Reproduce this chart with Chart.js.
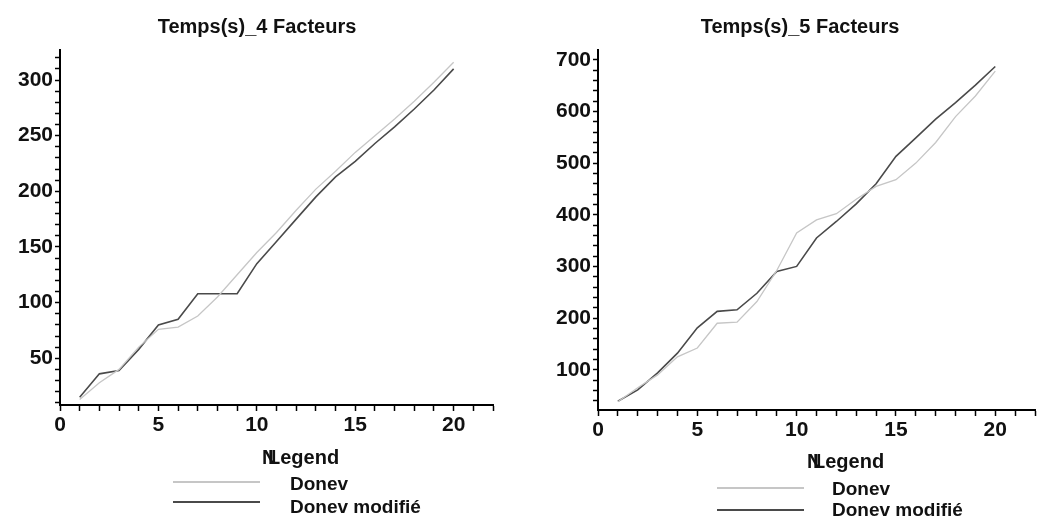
<!DOCTYPE html>
<html>
<head>
<meta charset="utf-8">
<script src="https://cdn.jsdelivr.net/npm/chart.js@4"></script>
<style>
  body { margin: 0; background: #fff; }
  .box { position: absolute; top: 0; width: 522px; height: 526px; }
</style>
</head>
<body>
<div class="box" style="left:0"><canvas id="c4" width="522" height="526"></canvas></div>
<div class="box" style="left:522px"><canvas id="c5" width="522" height="526"></canvas></div>
<script>
// ---- data ----
const nValues = [1, 2, 3, 4, 5, 6, 7, 8, 9, 10, 11, 12, 13, 14, 15, 16, 17, 18, 19, 20];

const donev4   = [13, 28, 40, 60, 76, 78, 88, 105, 125, 145, 163, 183, 202, 218, 235, 250, 265, 281, 298, 316];
const modifie4 = [15, 36, 39, 58, 80, 85, 108, 108, 108, 135, 155, 175, 195, 213, 227, 243, 258, 274, 291, 310];

const donev5   = [38, 65, 90, 125, 142, 190, 192, 232, 292, 365, 390, 402, 430, 455, 468, 500, 540, 590, 630, 678];
const modifie5 = [39, 61, 94, 132, 181, 213, 216, 248, 290, 300, 355, 387, 421, 460, 513, 549, 585, 617, 651, 687];

const xTickLabels = [0, 5, 10, 15, 20];
const yTicks4 = [50, 100, 150, 200, 250, 300];
const yTicks5 = [100, 200, 300, 400, 500, 600, 700];

const seriesNames = ["Donev", "Donev modifié"];
const LIGHT = "#c6c6c6";
const DARK = "#4a4a4a";
const FONT = "'Liberation Sans', Arial, sans-serif";

function pts(ys) {
  return nValues.map((x, i) => ({ x: x, y: ys[i] }));
}

// title + legend drawn by hand, Maple style
const decor = {
  id: "decor",
  afterDraw(chart, args, o) {
    const ctx = chart.ctx;
    ctx.save();
    ctx.fillStyle = "#111";
    ctx.textBaseline = "middle";
    ctx.font = "bold 20px " + FONT;
    ctx.textAlign = "center";
    ctx.fillText(o.title, o.titleX, 27);

    ctx.textAlign = "left";
    ctx.font = "bold 20px " + FONT;
    ctx.fillText("N", o.legX, o.legY);
    ctx.fillText("Legend", o.legX + 6, o.legY);

    ctx.font = "bold 19px " + FONT;
    chart.data.datasets.forEach((ds, i) => {
      const ty = o.rowY + i * o.rowGap;
      const ly = o.lineY + i * o.lineGap;
      ctx.strokeStyle = ds.borderColor;
      ctx.lineWidth = 2;
      ctx.beginPath();
      ctx.moveTo(o.lineX, ly);
      ctx.lineTo(o.lineX + 87, ly);
      ctx.stroke();
      ctx.fillStyle = "#111";
      ctx.fillText(ds.label, o.textX, ty);
    });
    ctx.restore();
  }
};

function makeChart(id, a, b, cfg) {
  return new Chart(document.getElementById(id), {
    type: "line",
    data: {
      datasets: [
        { label: seriesNames[0], data: pts(a), borderColor: LIGHT, borderWidth: 1.3, pointRadius: 0, tension: 0 },
        { label: seriesNames[1], data: pts(b), borderColor: DARK, borderWidth: 1.6, pointRadius: 0, tension: 0 }
      ]
    },
    options: {
      responsive: false,
      animation: false,
      layout: { padding: { left: 0, right: cfg.padRight, top: 50, bottom: 0 } },
      plugins: {
        legend: { display: false },
        tooltip: { enabled: false },
        decor: cfg.decor
      },
      scales: {
        x: {
          type: "linear",
          min: 0,
          max: 22,
          afterFit: s => { s.height = cfg.xHeight; },
          border: { color: "#000", width: 2 },
          grid: { drawOnChartArea: false, tickLength: 6, color: "#000", tickWidth: 1.5 },
          ticks: {
            stepSize: 1,
            autoSkip: false,
            maxRotation: 0,
            padding: 2,
            color: "#111",
            font: { family: FONT, weight: "bold", size: 21 },
            callback: v => xTickLabels.includes(v) ? String(v) : ""
          }
        },
        y: {
          min: cfg.yMin,
          max: cfg.yMax,
          afterFit: s => { s.width = cfg.yWidth; },
          afterBuildTicks: s => {
            const t = [];
            for (let v = Math.ceil(cfg.yMin / cfg.yStep) * cfg.yStep; v <= cfg.yMax; v += cfg.yStep) t.push({ value: v });
            s.ticks = t;
          },
          border: { color: "#000", width: 2 },
          grid: { drawOnChartArea: false, tickLength: 5, color: "#000", tickWidth: 1.5 },
          ticks: {
            autoSkip: false,
            padding: 2,
            color: "#111",
            font: { family: FONT, weight: "bold", size: 21 },
            callback: v => cfg.yLabels.includes(v) ? String(v) : ""
          }
        }
      }
    },
    plugins: [decor]
  });
}

makeChart("c4", donev4, modifie4, {
  padRight: 29, xHeight: 121, yWidth: 60,
  yMin: 8, yMax: 327, yStep: 10, yLabels: yTicks4,
  decor: { title: "Temps(s)_4 Facteurs", titleX: 257, legX: 262, legY: 458,
           textX: 290, rowY: 485, rowGap: 23, lineX: 173, lineY: 482, lineGap: 20 }
});

makeChart("c5", donev5, modifie5, {
  padRight: 9, xHeight: 116, yWidth: 76,
  yMin: 22, yMax: 719, yStep: 20, yLabels: yTicks5,
  decor: { title: "Temps(s)_5 Facteurs", titleX: 278, legX: 285, legY: 462,
           textX: 310, rowY: 490, rowGap: 21, lineX: 195, lineY: 488, lineGap: 22 }
});
</script>
</body>
</html>
